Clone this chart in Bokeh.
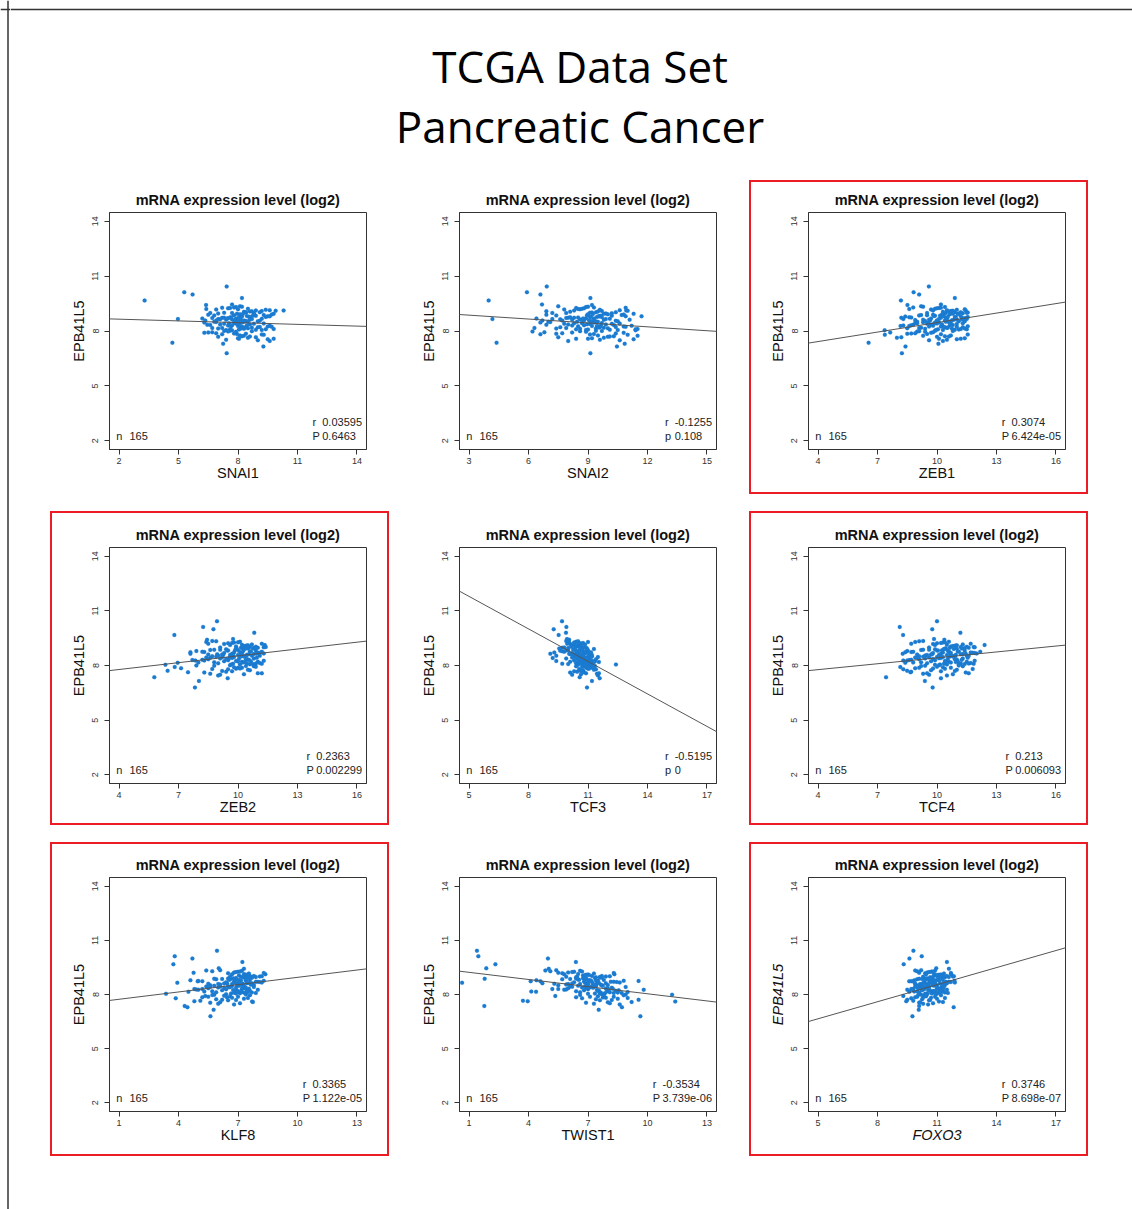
from bokeh.plotting import figure
from bokeh.layouts import row, column
from bokeh.models import Range1d, FixedTicker, Label, Slope, Span, Spacer, ColumnDataSource
from bokeh.embed import file_html
from bokeh.resources import INLINE

# ---------------- data ----------------
N_SAMPLES = 165

EPB41L5 = [
    10.43, 10.12, 9.99, 9.80, 9.67, 9.45, 9.42, 7.36, 6.79, 7.15, 9.12, 7.30, 8.65,
    9.31, 9.02, 9.18, 8.97, 9.26, 9.09, 9.35, 9.00, 9.14, 9.22, 8.96, 9.05, 9.29, 9.11,
    9.19, 8.99, 9.07, 9.24, 9.03, 9.33, 8.98, 9.16, 9.12, 9.27, 9.01, 9.20, 9.08, 8.95,
    8.92, 8.61, 8.77, 8.53, 8.85, 8.69, 8.58, 8.81, 8.74, 8.50, 8.89, 8.66,
    8.72, 8.55, 8.94, 8.63, 8.79, 8.57, 8.83, 8.70, 8.52, 8.87, 8.65, 8.76,
    8.60, 8.91, 8.68, 8.54, 8.80, 8.73, 8.62, 8.86, 8.56, 8.71, 8.78, 8.51,
    8.90, 8.64, 8.82, 8.59, 8.75, 8.67, 8.93, 8.58, 8.84, 8.69, 8.62, 8.77,
    8.47, 8.12, 8.33, 8.21, 8.44, 8.06, 8.29, 8.38, 8.15, 8.49, 8.24, 8.09,
    8.41, 8.18, 8.35, 8.27, 8.11, 8.46, 8.20, 8.31, 8.07, 8.39, 8.14, 8.25,
    8.43, 8.17, 8.36, 8.08, 8.30, 8.22, 8.48, 8.13, 8.40, 8.26, 8.10, 8.34,
    8.19, 8.45, 8.23, 8.37, 8.16, 8.32, 8.05, 8.42, 8.28, 8.50,
    8.02, 7.71, 7.88, 7.55, 7.96, 7.63, 7.82, 7.49, 7.92, 7.76, 8.04, 7.58, 7.85, 7.68, 7.99,
    7.52, 7.79, 7.93, 7.61, 7.87, 7.45, 7.74, 8.00, 7.66, 7.90, 7.57, 7.81, 7.97, 7.70, 7.84,
]

SNAI1 = [
    7.43, 5.29, 5.71, 8.20, 3.29, 7.70, 6.39, 4.69, 7.43, 9.28, 10.30, 7.25, 4.97,
    7.9, 8.4, 6.9, 8.8, 7.6, 9.2, 8.1, 7.3, 9.6, 8.5, 7.0, 8.3, 7.8, 9.9,
    8.0, 6.6, 8.6, 7.5, 9.1, 8.2, 7.7, 9.4, 8.9, 7.2, 8.4, 6.4, 8.7, 7.95,
    8.1, 7.4, 8.6, 9.0, 6.8, 7.9, 8.3, 9.5, 7.6, 8.0, 6.5, 8.7,
    7.2, 8.4, 9.8, 7.7, 8.2, 6.9, 8.9, 7.5, 8.5, 9.3, 7.0, 8.05,
    7.85, 8.8, 6.2, 8.35, 9.6, 7.3, 8.15, 7.8, 9.1, 6.7, 8.55, 7.95,
    9.7, 7.1, 8.45, 8.0, 7.65, 9.2, 8.25, 6.35, 8.75, 7.45, 8.6, 9.4,
    7.8, 8.3, 6.6, 9.0, 8.1, 7.4, 9.6, 7.95, 8.5, 6.9, 8.2, 7.6,
    9.3, 8.7, 7.1, 8.0, 9.8, 6.3, 8.4, 7.7, 8.9, 7.3, 8.15, 9.5,
    7.85, 6.7, 8.6, 8.05, 7.5, 9.1, 8.25, 7.0, 8.8, 7.65, 9.4, 6.45,
    8.35, 7.9, 9.7, 8.0, 7.2, 8.45, 9.2, 7.55, 8.1, 6.8,
    7.6, 8.2, 6.9, 9.5, 7.9, 8.5, 7.2, 9.0, 6.5, 8.1, 7.7, 9.8, 8.4, 7.0, 8.7,
    7.4, 9.3, 6.7, 8.0, 7.8, 9.6, 8.3, 7.3, 8.9, 6.3, 8.05, 9.2, 7.5, 8.6, 7.95,
]

SNAI2 = [
    6.92, 5.92, 6.60, 9.12, 3.99, 6.68, 9.20, 4.39, 9.12, 10.46, 10.93, 10.85, 4.18,
    8.9, 9.4, 7.8, 10.2, 8.4, 9.7, 7.5, 9.1, 10.6, 8.7, 9.9, 8.1, 9.3, 11.0,
    8.6, 7.2, 9.5, 8.8, 10.4, 9.0, 7.9, 9.6, 8.3, 10.9, 9.2, 8.5, 6.9, 9.8,
    9.0, 8.2, 9.7, 10.5, 7.4, 9.3, 8.8, 10.9, 8.5, 9.5, 6.9, 9.9,
    8.0, 9.2, 11.3, 8.6, 9.6, 7.7, 10.2, 8.9, 9.4, 10.7, 7.2, 9.1,
    8.7, 10.0, 6.4, 9.35, 11.7, 8.3, 9.8, 8.95, 10.4, 7.9, 9.15, 8.45,
    10.8, 7.6, 9.55, 9.05, 8.1, 10.1, 9.25, 6.7, 9.65, 8.75, 11.1, 9.45,
    9.3, 8.6, 10.3, 7.6, 9.7, 8.9, 11.2, 9.1, 10.0, 7.1, 9.5, 8.4,
    10.6, 9.8, 8.0, 9.2, 11.5, 6.6, 9.6, 8.8, 10.1, 7.8, 9.4, 10.8,
    8.7, 6.3, 9.9, 9.0, 8.2, 10.4, 9.35, 7.4, 10.2, 8.5, 11.4, 6.9,
    9.55, 9.15, 10.9, 8.95, 7.9, 9.65, 10.5, 8.3, 9.45, 7.0,
    9.4, 10.3, 7.7, 11.3, 8.9, 9.8, 6.6, 10.6, 8.2, 9.5, 11.4, 9.0, 7.4, 10.0, 8.6,
    9.6, 11.0, 6.8, 9.2, 10.4, 8.0, 11.5, 9.7, 7.5, 10.8, 8.4, 9.1, 6.2, 10.1, 9.3,
]

ZEB1 = [
    9.59, 8.82, 9.10, 10.90, 8.18, 10.20, 8.51, 6.55, 8.23, 8.41, 11.45, 10.07, 8.30,
    10.4, 10.9, 9.7, 11.3, 10.1, 10.7, 9.2, 11.5, 10.5, 9.9, 11.1, 10.3, 8.8, 10.8,
    11.4, 9.5, 10.6, 10.0, 11.2, 9.3, 10.45, 11.0, 9.8, 10.2, 11.55, 8.6, 10.75, 10.35,
    10.3, 9.6, 10.9, 11.4, 9.1, 10.5, 10.0, 11.2, 8.7, 10.7, 9.8, 11.5,
    10.2, 9.4, 10.8, 11.0, 8.4, 10.4, 9.9, 11.3, 10.6, 9.2, 10.1, 11.55,
    8.9, 10.65, 9.7, 11.1, 10.35, 8.2, 10.85, 9.5, 10.0, 11.45, 10.55, 9.0,
    10.25, 11.25, 9.85, 10.75, 8.6, 10.45, 11.05, 9.65, 10.15, 11.35, 9.3, 10.95,
    10.1, 9.4, 10.8, 11.3, 8.9, 10.3, 9.8, 11.0, 8.5, 10.6, 9.6, 11.5,
    10.0, 9.2, 10.7, 8.16, 11.2, 9.9, 10.4, 8.7, 10.9, 9.5, 11.4, 10.2,
    9.0, 10.5, 9.7, 11.1, 8.3, 10.35, 9.3, 10.75, 9.85, 11.55, 10.05, 8.8,
    10.55, 9.55, 11.0, 10.25, 9.1, 10.65, 9.95, 11.3, 8.6, 10.45,
    9.9, 10.4, 8.9, 11.0, 9.4, 7.98, 10.2, 9.6, 7.64, 10.7, 7.36, 11.2, 8.5, 10.0, 9.1,
    10.5, 7.37, 9.8, 11.4, 8.7, 10.3, 9.3, 10.8, 8.2, 9.7, 10.1, 11.55, 9.0, 10.6, 9.5,
]

ZEB2 = [
    8.94, 8.24, 8.76, 10.82, 6.79, 9.75, 8.44, 5.78, 7.83, 8.03, 11.35, 9.48, 7.60,
    10.1, 10.6, 9.3, 11.0, 9.8, 10.4, 8.7, 11.3, 10.2, 9.5, 10.8, 9.9, 8.4, 10.5,
    11.2, 9.1, 10.3, 9.7, 10.9, 8.9, 10.15, 10.7, 9.6, 10.0, 11.4, 8.5, 10.45, 10.25,
    9.9, 9.2, 10.6, 11.1, 8.6, 10.2, 9.6, 10.9, 8.3, 10.4, 9.4, 11.3,
    9.8, 9.0, 10.5, 10.8, 7.9, 10.0, 9.5, 11.0, 10.3, 8.8, 9.7, 11.2,
    8.5, 10.35, 9.3, 10.7, 10.05, 7.6, 10.55, 9.1, 9.75, 11.15, 10.25, 8.7,
    9.95, 10.95, 9.45, 10.45, 8.2, 10.15, 10.75, 9.25, 9.85, 11.05, 8.95, 10.65,
    9.8, 9.0, 10.5, 11.0, 8.4, 10.1, 9.5, 10.8, 6.96, 10.3, 9.3, 11.2,
    9.7, 8.8, 10.4, 7.85, 10.9, 9.6, 10.2, 8.2, 10.6, 9.1, 11.1, 9.9,
    8.6, 10.25, 9.4, 10.75, 7.7, 10.0, 8.9, 10.45, 9.55, 11.3, 9.75, 8.5,
    10.35, 9.2, 10.65, 10.05, 8.0, 10.55, 9.65, 10.95, 8.3, 10.15,
    9.6, 6.45, 10.2, 8.6, 10.8, 7.48, 9.9, 9.1, 6.81, 10.5, 6.34, 11.0, 7.13, 9.7, 8.8,
    10.3, 9.5, 10.9, 8.3, 10.0, 9.0, 10.6, 7.9, 9.4, 9.8, 11.2, 8.7, 10.4, 9.2, 10.1,
]

TCF3 = [
    9.69, 9.91, 9.27, 9.89, 9.52, 9.94, 10.05, 10.58, 10.95, 11.20, 10.48, 11.59, 9.10,
    10.4, 10.7, 10.1, 10.9, 10.3, 10.55, 9.9, 10.8, 10.25, 10.6, 10.0, 10.45, 11.0, 10.2,
    10.65, 9.8, 10.35, 10.75, 10.15, 10.5, 9.7, 10.85, 10.3, 10.05, 10.6, 9.95, 10.4, 10.7,
    10.6, 10.2, 10.9, 11.1, 10.0, 10.5, 10.75, 9.6, 10.4, 11.0, 10.3, 10.85,
    9.3, 10.55, 10.95, 10.1, 10.7, 11.2, 9.9, 10.45, 10.65, 10.25, 11.05, 9.8,
    10.6, 10.35, 10.8, 9.4, 10.5, 11.15, 10.15, 10.7, 10.4, 10.9, 9.7, 10.55,
    11.3, 10.05, 10.65, 10.3, 10.95, 10.45, 9.55, 10.75, 11.0, 10.2, 10.6, 10.85,
    10.8, 10.4, 11.1, 11.3, 10.2, 10.7, 10.95, 9.9, 10.6, 11.2, 10.5, 11.05,
    9.22, 10.75, 11.4, 10.3, 10.9, 11.5, 10.1, 10.65, 10.85, 10.45, 11.25, 9.4,
    10.8, 10.55, 11.0, 10.0, 10.7, 11.35, 10.35, 10.9, 10.6, 11.15, 9.7, 10.75,
    11.55, 10.25, 10.85, 10.5, 11.1, 10.65, 12.41, 10.95, 11.2, 10.4,
    10.9, 10.6, 11.2, 11.45, 10.4, 10.8, 11.05, 10.2, 10.7, 11.3, 10.5, 11.55, 10.95, 10.3, 11.1,
    10.65, 11.4, 10.85, 10.1, 11.0, 11.5, 10.75, 11.15, 10.45, 11.25, 10.9, 10.55, 11.35, 10.7, 11.0,
]

TCF4 = [
    10.00, 8.12, 9.76, 11.18, 8.29, 9.85, 10.37, 7.43, 9.78, 9.39, 12.40, 10.20, 8.27,
    10.6, 11.2, 9.8, 11.6, 10.3, 10.9, 9.3, 11.9, 10.5, 10.0, 11.4, 10.7, 8.9, 11.0,
    11.7, 9.6, 10.8, 10.2, 11.5, 9.1, 10.65, 11.3, 9.9, 10.4, 11.85, 8.7, 10.95, 10.45,
    10.4, 9.7, 11.1, 11.6, 9.2, 10.7, 10.1, 11.4, 8.7, 10.9, 9.9, 12.0,
    10.3, 9.4, 11.0, 11.3, 8.5, 10.5, 10.0, 11.8, 10.8, 9.3, 10.2, 12.18,
    9.0, 10.85, 9.8, 11.5, 10.55, 8.4, 11.2, 9.6, 10.15, 11.7, 10.6, 9.1,
    10.35, 11.45, 10.05, 10.95, 8.8, 10.65, 11.25, 9.5, 10.25, 11.9, 9.75, 11.05,
    10.3, 9.5, 11.0, 11.5, 8.9, 10.5, 9.9, 11.3, 8.4, 10.8, 9.7, 11.85,
    10.2, 9.2, 10.9, 8.3, 11.6, 10.0, 10.6, 8.7, 11.1, 9.4, 11.7, 10.4,
    9.0, 10.7, 9.8, 11.4, 8.6, 10.45, 9.3, 11.2, 10.1, 11.9, 10.35, 9.1,
    10.95, 9.6, 11.05, 10.55, 8.8, 11.25, 10.15, 11.55, 8.5, 10.65,
    10.1, 8.49, 10.7, 9.3, 11.3, 8.66, 10.4, 9.6, 8.15, 11.0, 9.9, 11.6, 8.9, 10.2, 9.4,
    10.8, 8.3, 10.0, 11.45, 9.1, 10.5, 9.7, 11.1, 8.7, 10.3, 9.5, 11.8, 9.2, 10.9, 9.8,
]

KLF8 = [
    5.94, 3.81, 4.70, 7.22, 3.74, 6.03, 7.30, 4.31, 5.61, 5.77, 8.38, 4.45, 3.94,
    7.2, 7.6, 6.5, 7.9, 7.0, 7.4, 6.1, 8.1, 7.3, 6.8, 7.7, 7.05, 5.7, 7.5,
    8.3, 6.6, 7.35, 6.9, 7.8, 5.4, 7.15, 7.55, 6.7, 7.1, 8.2, 4.76, 7.45, 7.25,
    6.9, 6.3, 7.4, 7.8, 5.9, 7.1, 6.7, 7.6, 5.2, 7.3, 6.5, 8.2,
    6.8, 6.1, 7.5, 7.7, 4.6, 7.0, 6.6, 8.0, 7.2, 5.8, 6.85, 8.3,
    5.5, 7.35, 6.4, 7.65, 7.05, 4.97, 7.45, 6.2, 6.95, 7.9, 7.15, 5.6,
    6.75, 7.55, 6.55, 7.25, 5.0, 7.0, 7.7, 6.0, 6.9, 8.1, 6.45, 7.4,
    6.7, 5.9, 7.2, 7.6, 5.4, 6.9, 6.4, 7.4, 4.5, 7.05, 6.2, 7.9,
    6.6, 5.7, 7.3, 5.0, 7.7, 6.5, 6.85, 5.2, 7.1, 6.0, 7.5, 6.75,
    5.6, 7.0, 6.3, 7.35, 4.8, 6.95, 5.8, 7.25, 6.55, 8.0, 6.8, 5.5,
    7.15, 6.1, 7.45, 6.9, 5.3, 7.55, 6.65, 7.8, 4.9, 7.0,
    6.4, 6.2, 7.0, 5.6, 7.6, 4.8, 6.7, 6.0, 5.35, 7.3, 3.37, 7.75, 5.2, 6.5, 5.8,
    7.1, 3.86, 6.3, 7.71, 5.5, 6.8, 5.9, 7.4, 5.1, 6.6, 6.1, 7.5, 5.7, 6.9, 6.45,
]

TWIST1 = [
    1.40, 1.47, 4.98, 6.39, 2.33, 1.87, 5.02, 1.77, 9.64, 7.54, 8.33, 8.71, 0.65,
    6.6, 7.2, 5.7, 7.6, 6.3, 6.9, 5.4, 7.9, 6.5, 6.0, 7.4, 6.75, 5.1, 7.0,
    8.3, 5.9, 6.85, 6.2, 7.7, 4.85, 6.45, 7.3, 5.8, 6.7, 8.1, 5.5, 7.05, 6.4,
    6.9, 6.2, 7.5, 8.0, 5.7, 7.2, 6.6, 7.8, 4.6, 7.4, 6.4, 8.6,
    6.8, 5.9, 7.6, 7.9, 4.4, 7.0, 6.5, 8.3, 7.3, 1.79, 6.85, 8.8,
    5.3, 7.35, 6.3, 7.65, 7.05, 4.11, 7.45, 6.1, 6.95, 8.15, 7.15, 5.5,
    6.75, 7.55, 6.55, 7.25, 9.55, 7.0, 7.7, 6.0, 6.9, 8.45, 4.7, 7.4,
    7.4, 6.6, 7.9, 8.4, 6.1, 7.6, 7.0, 8.2, 4.38, 7.75, 6.8, 8.7,
    7.3, 6.4, 8.0, 5.8, 8.5, 7.2, 7.5, 5.5, 7.85, 6.7, 9.0, 7.45,
    6.2, 7.95, 6.9, 8.3, 5.2, 7.55, 6.5, 8.1, 7.1, 9.81, 7.65, 6.0,
    8.05, 6.85, 8.55, 7.25, 4.14, 8.25, 7.35, 8.9, 5.9, 7.7,
    7.7, 9.55, 8.3, 6.9, 8.8, 3.96, 7.9, 7.3, 5.35, 8.5, 7.0, 9.2, 6.4, 7.6, 11.24,
    8.1, 6.7, 7.8, 11.4, 7.1, 8.6, 7.4, 8.9, 3.72, 7.5, 8.0, 9.0, 6.6, 8.2, 7.75,
]

FOXO3 = [
    9.81, 10.23, 9.61, 11.50, 9.32, 10.96, 11.60, 10.10, 9.76, 10.08, 11.72, 11.84, 9.87,
    10.9, 11.3, 10.4, 11.6, 10.7, 11.1, 10.2, 11.8, 10.85, 10.5, 11.4, 10.95, 10.0, 11.2,
    11.7, 10.3, 11.0, 10.6, 11.5, 9.9, 10.8, 11.35, 10.45, 10.75, 11.85, 10.1, 11.05, 10.65,
    10.7, 10.3, 11.1, 11.4, 10.0, 10.9, 10.5, 11.3, 9.7, 11.0, 10.4, 11.9,
    10.65, 10.2, 11.2, 11.5, 9.87, 10.8, 10.45, 11.6, 10.95, 10.1, 10.6, 11.88,
    9.9, 11.05, 10.35, 11.25, 10.85, 9.6, 11.15, 10.25, 10.55, 11.45, 10.75, 10.05,
    10.5, 11.35, 10.4, 10.9, 9.8, 10.7, 11.2, 10.15, 10.6, 11.7, 10.3, 10.95,
    10.6, 10.1, 11.0, 11.3, 9.9, 10.75, 10.35, 11.2, 9.6, 10.9, 10.25, 11.55,
    10.5, 10.0, 11.05, 9.5, 11.4, 10.45, 10.8, 9.8, 10.95, 10.15, 11.25, 10.55,
    9.95, 10.85, 10.3, 11.1, 9.7, 10.65, 10.2, 11.0, 10.4, 11.5, 10.7, 10.05,
    10.9, 10.25, 11.15, 10.6, 9.85, 11.3, 10.5, 11.35, 9.75, 10.8,
    10.5, 9.5, 10.9, 10.1, 11.2, 9.45, 10.7, 10.3, 9.3, 11.0, 10.4, 11.3, 9.9, 10.6, 10.2,
    10.8, 9.7, 10.35, 11.1, 10.0, 10.55, 10.25, 10.95, 9.8, 10.45, 10.15, 11.4, 10.05, 10.65, 10.3,
]

GENES = ["SNAI1", "SNAI2", "ZEB1", "ZEB2", "TCF3", "TCF4", "KLF8", "TWIST1", "FOXO3"]
GENE_VALUES = [SNAI1, SNAI2, ZEB1, ZEB2, TCF3, TCF4, KLF8, TWIST1, FOXO3]
X_TICK_START = [2, 3, 4, 4, 5, 4, 1, 1, 5]
Y_TICKS = [2, 5, 8, 11, 14]
R_TEXT = ["0.03595", "-0.1255", "0.3074", "0.2363", "-0.5195", "0.213", "0.3365", "-0.3534", "0.3746"]
P_TEXT = ["0.6463", "0.108", "6.424e-05", "0.002299", "0", "0.006093", "1.122e-05", "3.739e-06", "8.698e-07"]
P_SYMBOL = ["P", "p", "P", "P", "p", "P", "P", "P", "P"]
FIT_SLOPE = [-0.0316, -0.071, 0.173, 0.125, -0.595, 0.108, 0.135, -0.132, 0.315]
FIT_INTERCEPT = [8.71, 9.08, 6.73, 7.28, 14.77, 7.34, 7.60, 9.36, 5.08]
HIGHLIGHT = [False, False, True, True, False, True, True, False, True]
ITALIC = [False, False, False, False, False, False, False, False, True]

for g, vals in zip(GENES, GENE_VALUES):
    assert len(vals) == len(EPB41L5) == N_SAMPLES, (g, len(vals), len(EPB41L5))

# ---------------- style ----------------
FONT = "Liberation Sans"
DOT = "#1a7bd0"
RED = "#ec1c24"
INK = "#333333"
BOX_W, BOX_H, EDGE = 339, 314, 2
ROW_BORDERS = [(30, 43), (34, 40), (33, 43)]


def text_w(s, px):
    w = {".": 0.278, "-": 0.333}
    return sum(w.get(c, 0.556) for c in s) * px


def make_panel(i, top, bottom):
    ticks = [X_TICK_START[i] + 3 * k for k in range(5)]
    xpad = 0.04 * (ticks[-1] - ticks[0])
    ypad = 0.04 * (Y_TICKS[-1] - Y_TICKS[0])
    xr = Range1d(ticks[0] - xpad, ticks[-1] + xpad)
    yr = Range1d(Y_TICKS[0] - ypad, Y_TICKS[-1] + ypad)
    fw, fh = BOX_W - 2 * EDGE, BOX_H - 2 * EDGE
    p = figure(width=fw, height=fh, x_range=xr, y_range=yr,
               output_backend="svg", toolbar_location=None,
               min_border_left=57, min_border_right=21,
               min_border_top=top, min_border_bottom=bottom,
               title="mRNA expression level (log2)")
    p.background_fill_color = "white"
    p.border_fill_color = "white"
    p.outline_line_color = INK
    p.outline_line_width = 1
    p.xgrid.visible = False
    p.ygrid.visible = False

    p.title.align = "center"
    p.title.text_font = FONT
    p.title.text_font_size = "14.5px"
    p.title.text_font_style = "bold"
    p.title.text_color = "#111111"
    p.title.standoff = 10

    p.xaxis.ticker = FixedTicker(ticks=ticks)
    p.yaxis.ticker = FixedTicker(ticks=Y_TICKS)
    p.xaxis.axis_label = GENES[i]
    p.yaxis.axis_label = "EPB41L5"
    style = "italic" if ITALIC[i] else "normal"
    for ax in (p.xaxis[0], p.yaxis[0]):
        ax.major_tick_in = 0
        ax.major_tick_out = 5
        ax.minor_tick_in = 0
        ax.minor_tick_out = 0
        ax.axis_line_color = INK
        ax.major_tick_line_color = INK
        ax.major_label_text_font = FONT
        ax.major_label_text_font_size = "9px"
        ax.major_label_text_color = "#333333"
        ax.axis_label_text_font = FONT
        ax.axis_label_text_font_size = "14.5px"
        ax.axis_label_text_font_style = style
        ax.axis_label_text_color = "#111111"
    p.xaxis.major_label_standoff = 3
    p.xaxis.axis_label_standoff = -2
    p.yaxis.major_label_standoff = 6
    p.yaxis.axis_label_standoff = 3
    p.yaxis.major_label_orientation = "vertical"

    src = ColumnDataSource(dict(x=GENE_VALUES[i], y=EPB41L5))
    p.scatter("x", "y", source=src, marker="circle", size=4.0,
              fill_color=DOT, line_color=DOT, line_width=0.2)
    p.add_layout(Slope(gradient=FIT_SLOPE[i], y_intercept=FIT_INTERCEPT[i],
                       line_color="#555555", line_width=1))

    lab = dict(text_font=FONT, text_font_size="11px", text_color="#222222",
               text_baseline="middle", text_align="left")
    p.add_layout(Label(x=xr.start, y=yr.start, x_offset=6.7, y_offset=13.5, text="n", **lab))
    p.add_layout(Label(x=xr.start, y=yr.start, x_offset=20, y_offset=13.5, text=str(N_SAMPLES), **lab))
    vw = max(text_w(R_TEXT[i], 11), text_w(P_TEXT[i], 11))
    vx = -(4.5 + vw)
    p.add_layout(Label(x=xr.end, y=yr.start, x_offset=vx, y_offset=27.5, text=R_TEXT[i], **lab))
    p.add_layout(Label(x=xr.end, y=yr.start, x_offset=vx - 9.7, y_offset=27.5, text="r", **lab))
    p.add_layout(Label(x=xr.end, y=yr.start, x_offset=vx, y_offset=13.5, text=P_TEXT[i], **lab))
    p.add_layout(Label(x=xr.end, y=yr.start, x_offset=vx - 9.7, y_offset=13.5, text=P_SYMBOL[i], **lab))

    def edge(w, h):
        if HIGHLIGHT[i]:
            return Spacer(width=w, height=h, styles={"background-color": RED})
        return Spacer(width=w, height=h)

    return column(edge(BOX_W, EDGE),
                  row(edge(EDGE, fh), p, edge(EDGE, fh)),
                  edge(BOX_W, EDGE))


# ---------------- page decoration ----------------
left = figure(width=10, height=1209, x_range=Range1d(0, 10), y_range=Range1d(1209, 0),
              x_axis_type=None, y_axis_type=None, output_backend="svg",
              toolbar_location=None, min_border=0)
left.outline_line_color = None
left.xgrid.visible = False
left.ygrid.visible = False
left.add_layout(Span(location=7.5, dimension="height", line_color=INK, line_width=1.5))
left.add_layout(Span(location=9, dimension="width", line_color=INK, line_width=1.5))

head = figure(width=1122, height=180, x_range=Range1d(10, 1132), y_range=Range1d(180, 0),
              x_axis_type=None, y_axis_type=None, output_backend="svg",
              toolbar_location=None, min_border=0)
head.outline_line_color = None
head.xgrid.visible = False
head.ygrid.visible = False
head.add_layout(Span(location=9, dimension="width", line_color=INK, line_width=1.5))
for txt, yb in (("TCGA Data Set", 65.5), ("Pancreatic Cancer", 125.0)):
    head.add_layout(Label(x=579.5, y=yb, text=txt, text_align="center",
                          text_baseline="alphabetic", text_font="Open Sans",
                          text_font_size="44px", text_color="#000000"))

rows = []
for r in range(3):
    top, bottom = ROW_BORDERS[r]
    panels = [make_panel(3 * r + c, top, bottom) for c in range(3)]
    rows.append(row(Spacer(width=40, height=BOX_H), panels[0],
                    Spacer(width=11, height=BOX_H), panels[1],
                    Spacer(width=10, height=BOX_H), panels[2]))

main = column(head, rows[0], Spacer(width=1122, height=17), rows[1],
              Spacer(width=1122, height=17), rows[2])
root = row(left, main)

open("out.html", "w").write(file_html(root, INLINE, title="TCGA Data Set - Pancreatic Cancer"))
